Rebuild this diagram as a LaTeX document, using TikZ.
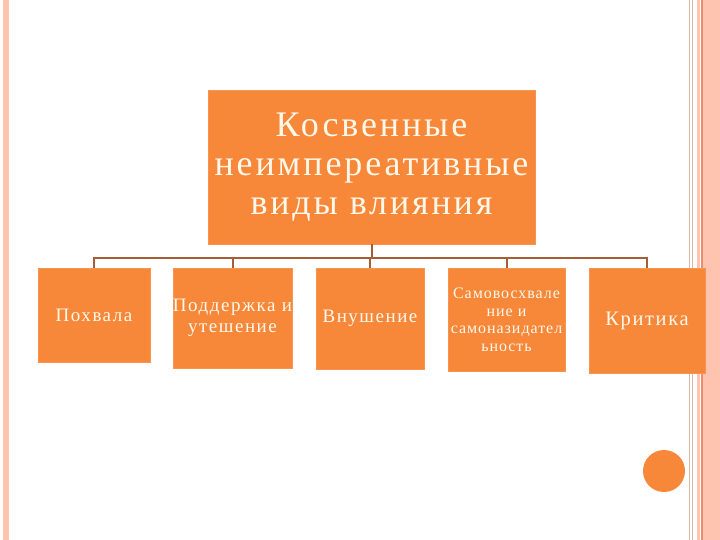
\documentclass[tikz,border=0pt]{standalone}
\usepackage{fontspec}
\setmainfont{Liberation Serif}
\usepackage{xcolor}
\usepackage{tikz}
\usetikzlibrary{positioning}
\definecolor{boxorange}{RGB}{247, 136, 58}
\definecolor{linkbrown}{RGB}{165, 95, 55}
\definecolor{cream}{RGB}{255, 248, 235}
\definecolor{salmon}{RGB}{255, 196, 176}
\definecolor{salmondark}{RGB}{240, 140, 110}
\definecolor{stripetan}{RGB}{215, 185, 165}

\begin{document}
\begin{tikzpicture}[
    x=1pt, y=-1pt,
    topbox/.style={rectangle, draw=boxorange!90!white, fill=boxorange, text=cream, align=center,
        minimum width=327pt, minimum height=154pt, inner sep=0pt,
        font=\fontsize{36}{39}\selectfont\addfontfeature{LetterSpace=8}},
    kind/.style={rectangle, draw=boxorange!90!white, fill=boxorange, text=cream, align=center,
        inner sep=0pt, font=\fontsize{19}{21}\selectfont\addfontfeature{LetterSpace=8}},
    link/.style={draw=linkbrown, line width=2pt}
]
    \useasboundingbox (0,0) rectangle (720,540);
    \fill[white] (0,0) rectangle (720,540);

    % page border
    \fill[salmon] (3,0) rectangle (9,540);
    \fill[stripetan] (689,0) rectangle (690,540);
    \fill[stripetan] (692,0) rectangle (693,540);
    \fill[salmon] (697,0) rectangle (700,540);
    \fill[salmondark] (701,0) rectangle (703,540);
    \fill[salmon] (703,0) rectangle (720,540);

    % main box
    \node[topbox] (main) at (371.5,167) {Косвенные\\неимпереативные\\виды влияния};

    % kinds of influence
    \node[kind, minimum width=112pt, minimum height=94pt] (praise) at (94,315) {Похвала};
    \node[kind, minimum width=117pt, minimum height=100pt] (support) at (232.5,318) {Поддержка и\\утешение};
    \node[kind, minimum width=108pt, minimum height=101pt] (suggest) at (370,318.5) {Внушение};
    \node[kind, minimum width=117pt, minimum height=103pt,
        font=\fontsize{16}{17.5}\selectfont\addfontfeature{LetterSpace=6}] (selfpraise) at (506.5,320)
        {Самовосхвале\\ние и\\самоназидател\\ьность};
    \node[kind, minimum width=116pt, minimum height=105pt,
        font=\fontsize{20.5}{23}\selectfont\addfontfeature{LetterSpace=8}] (critic) at (647,320.5) {Критика};

    % connectors
    \foreach \k in {praise, support, suggest, selfpraise, critic}
        \draw[link] (main.south) -- ++(0,14) -| (\k.north);

    % page marker
    \fill[boxorange] (664,471) circle (21);
\end{tikzpicture}
\end{document}
